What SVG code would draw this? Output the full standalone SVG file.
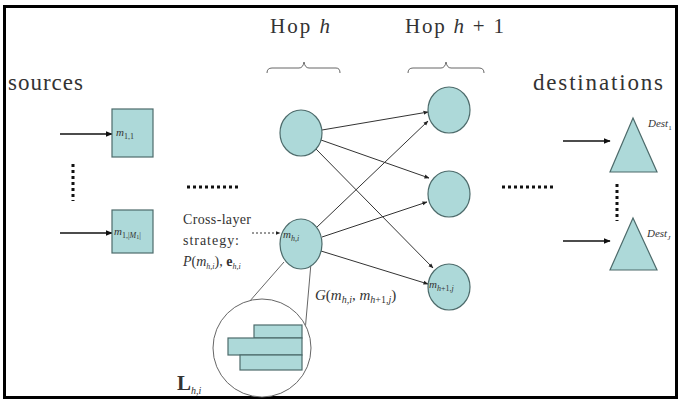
<svg xmlns="http://www.w3.org/2000/svg" width="681" height="401" viewBox="0 0 681 401">
  <defs>
    <marker id="arr" viewBox="0 0 10 10" refX="9" refY="5" markerWidth="5" markerHeight="5" orient="auto" markerUnits="userSpaceOnUse">
      <path d="M0,1 L10,5 L0,9 Z" fill="#222"/>
    </marker>
    <marker id="arrBig" viewBox="0 0 10 10" refX="9" refY="5" markerWidth="7" markerHeight="7" orient="auto" markerUnits="userSpaceOnUse">
      <path d="M0,1 L10,5 L0,9 Z" fill="#111"/>
    </marker>
  </defs>
  <style>
    .node { fill: #add9d9; stroke: #4d6b6b; stroke-width: 1.2; }
    .edge { stroke: #333; stroke-width: 1; fill: none; marker-end: url(#arr); }
    .in { stroke: #111; stroke-width: 1.4; fill: none; marker-end: url(#arrBig); }
    .thin { stroke: #555; stroke-width: 0.9; fill: none; }
    .brace { stroke: #666; stroke-width: 1; fill: none; }
    .dots { stroke: #111; stroke-width: 3; stroke-dasharray: 3 3; fill: none; }
    .t { font-family: 'Liberation Serif', serif; fill: #333; }
  </style>

  <rect x="4.5" y="6.5" width="672" height="391" fill="#fff" stroke="#000" stroke-width="3"/>

  <!-- braces -->
  <path class="brace" d="M267,73 Q267,68 272,68 L299,68 Q303,68 304,62 Q305,68 309,68 L336,68 Q340,68 340,73"/>
  <path class="brace" d="M408,73 Q408,68 413,68 L441,68 Q445,68 446,62 Q447,68 451,68 L479,68 Q484,68 484,73"/>

  <!-- connectors -->
  <g id="connectors">
    <line class="in" x1="60" y1="134" x2="112" y2="134"/>
    <line class="in" x1="60" y1="233" x2="112" y2="233"/>
    <line class="in" x1="563" y1="141" x2="610" y2="141"/>
    <line class="in" x1="563" y1="241" x2="610" y2="241"/>
    <line x1="252" y1="233" x2="280" y2="233" stroke="#333" stroke-width="1" stroke-dasharray="2 2" marker-end="url(#arr)"/>

    <line class="edge" x1="322" y1="130" x2="428" y2="112"/>
    <line class="edge" x1="321" y1="140" x2="429" y2="178"/>
    <line class="edge" x1="316" y1="149" x2="433" y2="268"/>
    <line class="edge" x1="316" y1="228" x2="428" y2="121"/>
    <line class="edge" x1="322" y1="237" x2="427" y2="202"/>
    <line class="edge" x1="321" y1="251" x2="428" y2="284"/>

    <!-- zoom lines to the layer view -->
    <line class="thin" x1="284" y1="262" x2="249" y2="302"/>
    <line class="thin" x1="311" y1="263" x2="304" y2="343"/>
  </g>

  <!-- ellipsis marks -->
  <line class="dots" x1="73" y1="164" x2="73" y2="201"/>
  <line class="dots" x1="187" y1="187" x2="238" y2="187"/>
  <line class="dots" x1="502" y1="187" x2="554" y2="187"/>
  <line class="dots" x1="617" y1="184" x2="617" y2="221"/>

  <!-- headings -->
  <text class="t" font-family="'Liberation Serif', serif" x="8" y="90" font-size="23" textLength="75">sources</text>
  <text class="t" font-family="'Liberation Serif', serif" x="533" y="90" font-size="23" textLength="130">destinations</text>
  <text class="t" font-family="'Liberation Serif', serif" x="270" y="33" font-size="21" textLength="60">Hop <tspan font-style="italic">h</tspan></text>
  <text class="t" font-family="'Liberation Serif', serif" x="405" y="33" font-size="21" textLength="99">Hop <tspan font-style="italic">h</tspan> + 1</text>

  <!-- sources -->
  <g id="src1">
    <rect class="node" x="112" y="109" width="41" height="48"/>
    <text class="t" font-family="'Liberation Serif', serif" x="116" y="136" font-size="11"><tspan font-style="italic">m</tspan><tspan font-size="8" dy="3">1,1</tspan></text>
  </g>
  <g id="srcM">
    <rect class="node" x="112" y="210" width="41" height="43"/>
    <text class="t" font-family="'Liberation Serif', serif" x="114" y="235" font-size="11"><tspan font-style="italic">m</tspan><tspan font-size="8" dy="3">1,|<tspan font-style="italic">M</tspan></tspan><tspan font-size="6" dy="1">1</tspan><tspan font-size="8" dy="-1">|</tspan></text>
  </g>

  <!-- hop h -->
  <g id="hop-h-1">
    <ellipse class="node" cx="301" cy="133" rx="21" ry="23"/>
  </g>
  <g id="hop-h-i">
    <ellipse class="node" cx="301" cy="244" rx="21" ry="25"/>
    <text class="t" font-family="'Liberation Serif', serif" x="283" y="238" font-size="11"><tspan font-style="italic">m</tspan><tspan font-size="8" dy="3" font-style="italic">h,i</tspan></text>
  </g>

  <!-- hop h+1 -->
  <g id="hop-h1-1">
    <ellipse class="node" cx="449" cy="110" rx="21" ry="23"/>
  </g>
  <g id="hop-h1-2">
    <ellipse class="node" cx="449" cy="194" rx="21" ry="23"/>
  </g>
  <g id="hop-h1-j">
    <ellipse class="node" cx="449" cy="287" rx="21" ry="23"/>
    <text class="t" font-family="'Liberation Serif', serif" x="429" y="288" font-size="11"><tspan font-style="italic">m</tspan><tspan font-size="8" dy="3"><tspan font-style="italic">h</tspan>+1,<tspan font-style="italic">j</tspan></tspan></text>
  </g>

  <!-- destinations -->
  <g id="dest1">
    <polygon class="node" points="633,118 657,172 610,172"/>
    <text class="t" font-family="'Liberation Serif', serif" x="648" y="127" font-size="11" font-style="italic">Dest<tspan font-size="7" dy="3" font-style="normal">1</tspan></text>
  </g>
  <g id="destJ">
    <polygon class="node" points="633,218 657,270 610,270"/>
    <text class="t" font-family="'Liberation Serif', serif" x="647" y="237" font-size="11" font-style="italic">Dest<tspan font-size="7" dy="3">J</tspan></text>
  </g>

  <!-- cross-layer strategy -->
  <g id="strategy">
    <text class="t" font-family="'Liberation Serif', serif" x="183" y="224" font-size="14" textLength="68">Cross-layer</text>
    <text class="t" font-family="'Liberation Serif', serif" x="183" y="245" font-size="14" textLength="56">strategy:</text>
    <text class="t" font-family="'Liberation Serif', serif" x="183" y="266" font-size="14"><tspan font-style="italic">P</tspan>(<tspan font-style="italic">m</tspan><tspan font-size="8" dy="3" font-style="italic">h,i</tspan><tspan dy="-3">), </tspan><tspan font-weight="bold">e</tspan><tspan font-size="8" dy="3" font-style="italic">h,i</tspan></text>
  </g>

  <!-- channel gain -->
  <text class="t" font-family="'Liberation Serif', serif" x="315" y="300" font-size="15"><tspan font-style="italic">G</tspan>(<tspan font-style="italic">m</tspan><tspan font-size="10" dy="3" font-style="italic">h,i</tspan><tspan dy="-3">, </tspan><tspan font-style="italic">m</tspan><tspan font-size="10" dy="3"><tspan font-style="italic">h</tspan>+1,<tspan font-style="italic">j</tspan></tspan><tspan dy="-3">)</tspan></text>

  <!-- layer view -->
  <g id="layers">
    <circle cx="262" cy="348" r="49" fill="#fff" stroke="#666" stroke-width="1"/>
    <rect class="node" x="254" y="325" width="48" height="13"/>
    <rect class="node" x="228" y="338" width="74" height="17"/>
    <rect class="node" x="240" y="355" width="62" height="15"/>
    <text class="t" font-family="'Liberation Serif', serif" x="177" y="390" font-size="21" font-weight="bold">L<tspan font-size="10" dy="4" font-weight="normal" font-style="italic">h,i</tspan></text>
  </g>
</svg>
